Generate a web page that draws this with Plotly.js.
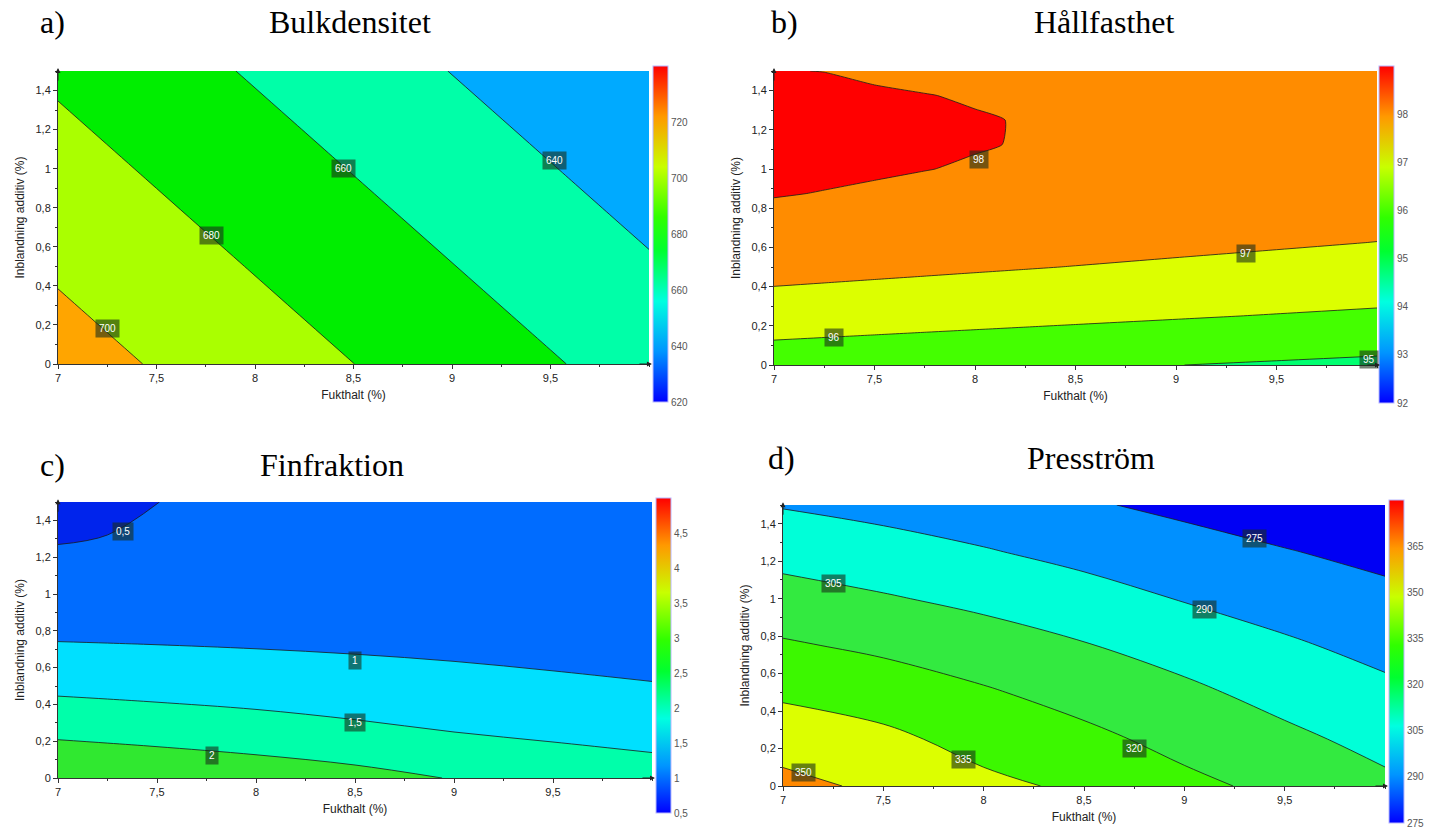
<!DOCTYPE html>
<html><head><meta charset="utf-8">
<script src="https://cdn.plot.ly/plotly-3.0.1.min.js"></script>
<style>html,body{margin:0;padding:0;background:#fff}#chart{width:1435px;height:829px}</style>
</head><body><div id="chart"></div>
<script>
// ---------- data ----------
const fukthalt = [7, 7.5, 8, 8.5, 9, 9.5, 10];
const fukthaltB = [7, 7.25, 7.5, 7.75, 8, 8.25, 8.5, 9, 9.5, 10];
const fukthaltC = [7, 7.25, 7.5, 8, 8.5, 9, 9.5, 10];
const additiv = [0, 0.25, 0.5, 0.75, 1, 1.25, 1.5];
const additivFine = [0, 0.125, 0.25, 0.375, 0.5, 0.625, 0.75, 0.875, 1, 1.125, 1.25, 1.375, 1.5];
const xTicks = [7, 7.5, 8, 8.5, 9, 9.5];
const yTicks = [0, 0.2, 0.4, 0.6, 0.8, 1, 1.2, 1.4];

// a) Bulkdensitet  (rows = additiv, cols = fukthalt)
const bulkdensitet = [
  [708.0, 698.7, 689.4, 680.1, 670.8, 661.5, 652.2],
  [702.8, 693.5, 684.2, 674.9, 665.6, 656.3, 647.0],
  [697.6, 688.3, 679.0, 669.7, 660.4, 651.1, 641.8],
  [692.4, 683.1, 673.8, 664.5, 655.2, 645.9, 636.6],
  [687.2, 677.9, 668.6, 659.3, 650.0, 640.7, 631.4],
  [682.0, 672.7, 663.4, 654.1, 644.8, 635.5, 626.2],
  [676.8, 667.5, 658.2, 648.9, 639.6, 630.3, 621.0]
];
const bulkLevels = [640, 660, 680, 700];
const bulkBar = [620, 740];
const bulkBarTicks = [620, 640, 660, 680, 700, 720];

// b) Hållfasthet (rows = additivFine, cols = fukthaltB)
const hallfasthet = [
  [95.433, 95.380, 95.327, 95.274, 95.221, 95.168, 95.115, 95.009, 94.903, 94.795],
  [95.992, 95.939, 95.886, 95.833, 95.781, 95.728, 95.675, 95.569, 95.463, 95.356],
  [96.488, 96.436, 96.383, 96.331, 96.278, 96.226, 96.173, 96.067, 95.962, 95.856],
  [96.922, 96.870, 96.818, 96.766, 96.714, 96.662, 96.609, 96.504, 96.400, 96.295],
  [97.293, 97.242, 97.190, 97.139, 97.087, 97.036, 96.984, 96.880, 96.777, 96.673],
  [97.602, 97.551, 97.500, 97.450, 97.399, 97.348, 97.297, 97.194, 97.093, 96.990],
  [97.848, 97.798, 97.748, 97.698, 97.648, 97.598, 97.548, 97.447, 97.347, 97.246],
  [98.032, 97.983, 97.934, 97.885, 97.836, 97.787, 97.738, 97.639, 97.541, 97.442],
  [98.153, 98.105, 98.057, 98.010, 97.962, 97.914, 97.866, 97.769, 97.673, 97.576],
  [98.212, 98.165, 98.119, 98.072, 98.025, 97.979, 97.932, 97.837, 97.744, 97.650],
  [98.208, 98.163, 98.118, 98.072, 98.027, 97.982, 97.936, 97.844, 97.753, 97.662],
  [98.142, 98.098, 98.054, 98.011, 97.967, 97.923, 97.879, 97.790, 97.702, 97.614],
  [98.013, 97.995, 97.929, 97.887, 97.845, 97.802, 97.760, 97.674, 97.590, 97.505]
];
const hallLevels = [95, 96, 97, 98];
const hallBar = [92, 99];
const hallBarTicks = [92, 93, 94, 95, 96, 97, 98];

// c) Finfraktion (rows = additiv, cols = fukthaltC)
const finfraktion = [
  [2.513, 2.459, 2.404, 2.285, 2.153, 1.979, 1.842, 1.724],
  [1.897, 1.854, 1.811, 1.721, 1.611, 1.500, 1.405, 1.319],
  [1.388, 1.360, 1.331, 1.271, 1.197, 1.135, 1.074, 1.019],
  [0.986, 0.974, 0.962, 0.936, 0.912, 0.883, 0.849, 0.826],
  [0.692, 0.699, 0.705, 0.715, 0.756, 0.745, 0.730, 0.740],
  [0.506, 0.515, 0.559, 0.608, 0.728, 0.720, 0.718, 0.759],
  [0.427, 0.462, 0.497, 0.615, 0.829, 0.809, 0.812, 0.885]
];
const finLevels = [0.5, 1, 1.5, 2];
const finBar = [0.5, 5];
const finBarTicks = [0.5, 1, 1.5, 2, 2.5, 3, 3.5, 4, 4.5];

// d) Presström (rows = additiv, cols = fukthalt)
const presstrom = [
  [354.3, 347.0, 338.4, 332.4, 323.4, 316.4, 308.0],
  [343.4, 338.4, 329.9, 323.5, 315.7, 308.3, 300.6],
  [332.6, 327.8, 321.5, 314.7, 308.0, 300.1, 293.1],
  [321.7, 317.2, 311.7, 305.8, 299.0, 292.0, 285.8],
  [310.8, 306.3, 301.5, 295.9, 289.2, 283.8, 278.5],
  [299.9, 295.8, 291.1, 285.6, 280.5, 275.7, 271.2],
  [289.1, 285.4, 280.8, 276.5, 271.9, 267.5, 263.9]
];
const pressLevels = [275, 290, 305, 320, 335, 350];
const pressBar = [275, 380];
const pressBarTicks = [275, 290, 305, 320, 335, 350, 365];

// ---------- styling ----------
const rainbow = [[0,'#0000ff'],[0.15,'#0095ff'],[0.3,'#00ffe0'],[0.45,'#00ff30'],[0.55,'#30ff00'],[0.7,'#c8ff00'],[0.85,'#ff9900'],[1,'#ff0000']];
const W = 1435, H = 829;
const px = v => v / W, py = v => 1 - v / H;

function stepScale(colors) {
  const nc = colors.length - 1, cs = [];
  for (let k = 0; k < nc; k++) {
    const lo = k / nc, hi = (k === nc - 1) ? (nc - 0.25) / nc : (k + 1) / nc;
    cs.push([lo, colors[k]], [hi, colors[k]]);
  }
  cs.push([(nc - 0.25) / nc, colors[nc]], [1, colors[nc]]);
  return cs;
}
const fmt = v => String(v).replace('.', ',');
const narrow = 'Liberation Sans Narrow, Liberation Sans, Arial, sans-serif';

const panels = [
  {key:'', x:fukthalt, y:additiv, z:bulkdensitet, lv:bulkLevels, bar:bulkBar, bt:bulkBarTicks,
   bands:['#00aaff','#00ffa8','#00ee00','#aaff00','#ffa500'], smooth:1,
   dom:[[58,649],[71,364]], cb:[653,66,336],
   letter:['a)',52,22], title:['Bulkdensitet',350,22],
   labels:[[9.52,1.04],[8.45,1.0],[7.78,0.66],[7.25,0.18]]},
  {key:'2', x:fukthaltB, y:additivFine, z:hallfasthet, lv:hallLevels, bar:hallBar, bt:hallBarTicks,
   bands:['#00ff70','#44ff00','#dcff00','#ff8c00','#ff0000'], smooth:0.5,
   dom:[[774,1377],[71,365]], cb:[1379,66,337],
   letter:['b)',784,22], title:['Hållfasthet',1104,22],
   labels:[[9.96,0.03],[7.3,0.14],[9.35,0.57],[8.02,1.05]]},
  {key:'3', x:fukthaltC, y:additiv, z:finfraktion, lv:finLevels, bar:finBar, bt:finBarTicks,
   bands:['#0024ec','#006cff','#00e0ff','#00ffaa','#30e830'], smooth:1,
   dom:[[58,652],[502,778]], cb:[656,498,315],
   letter:['c)',52,465], title:['Finfraktion',332,465],
   labels:[[7.33,1.34],[8.5,0.64],[8.5,0.3],[7.78,0.12]]},
  {key:'4', x:fukthalt, y:additiv, z:presstrom, lv:pressLevels, bar:pressBar, bt:pressBarTicks,
   bands:['#0000f4','#0090ff','#00ffd8','#33ea40','#3cf800','#dcff00','#ff8800'], smooth:1,
   dom:[[783,1385],[505,786]], cb:[1389,500,323],
   letter:['d)',781,458], title:['Presström',1091,458],
   labels:[[9.35,1.32],[9.1,0.94],[7.25,1.08],[8.75,0.2],[7.9,0.14],[7.1,0.07]]}
];

const data = [], annotations = [];
const layout = {
  width: W, height: H, margin:{l:0,r:0,t:0,b:0},
  paper_bgcolor:'#fff', plot_bgcolor:'#fff', showlegend:false,
  separators: ', ',
  font:{family:'Liberation Sans, Arial, sans-serif', color:'#222'},
  annotations
};
const tfont = {family:'Liberation Serif, Times New Roman, serif', size:32, color:'#000'};

panels.forEach(p => {
  const xa = 'x' + p.key, ya = 'y' + p.key;
  const step = p.lv[1] - p.lv[0];
  data.push({
    type:'contour', x:p.x, y:p.y, z:p.z, xaxis:xa, yaxis:ya,
    autocontour:false,
    contours:{start:p.lv[0], end:p.lv[p.lv.length-1], size:step, coloring:'fill', showlines:true},
    colorscale: stepScale(p.bands), showscale:false,
    line:{color:'#1a1a1a', width:0.8, smoothing:p.smooth},
    hoverinfo:'skip'
  });
  data.push({
    type:'scatter', mode:'markers', x:[null,null], y:[null,null], xaxis:xa, yaxis:ya,
    hoverinfo:'skip', showlegend:false,
    marker:{color:p.bar, cmin:p.bar[0], cmax:p.bar[1], colorscale:rainbow, showscale:true,
      colorbar:{x:px(p.cb[0]), xanchor:'left', y:py(p.cb[1]), yanchor:'top',
        lenmode:'pixels', len:p.cb[2], thicknessmode:'pixels', thickness:15,
        xpad:0, ypad:0, outlinewidth:1, outlinecolor:'#b8b8ff',
        tickmode:'array', tickvals:p.bt, ticks:'', ticklabelposition:'outside',
        tickfont:{size:10, color:'#555', family:narrow}}}
  });
  layout['xaxis' + p.key] = {
    domain:[px(p.dom[0][0]), px(p.dom[0][1])], range:[7,10], anchor:ya,
    tickmode:'array', tickvals:xTicks, ticks:'outside', ticklen:4, tickcolor:'#333',
    minor:{tickmode:'linear', tick0:7, dtick:0.25, ticks:'outside', ticklen:2, tickcolor:'#333'},
    showline:true, linecolor:'#333', linewidth:1, showgrid:false, zeroline:false,
    tickfont:{size:11, color:'#222'},
    title:{text:'Fukthalt (%)', font:{size:12, color:'#222'}, standoff:7}
  };
  layout['yaxis' + p.key] = {
    domain:[py(p.dom[1][1]), py(p.dom[1][0])], range:[0,1.5], anchor:xa,
    tickmode:'array', tickvals:yTicks, ticks:'outside', ticklen:4, tickcolor:'#333',
    minor:{tickmode:'linear', tick0:0, dtick:0.1, ticks:'outside', ticklen:2, tickcolor:'#333'},
    showline:true, linecolor:'#333', linewidth:1, showgrid:false, zeroline:false,
    tickfont:{size:11, color:'#222'},
    title:{text:'Inblandning additiv (%)', font:{size:12, color:'#222'}, standoff:8}
  };
  annotations.push({xref:'paper', yref:'paper', x:px(p.letter[1]), y:py(p.letter[2]), text:p.letter[0],
    showarrow:false, font:tfont, xanchor:'center', yanchor:'middle'});
  annotations.push({xref:'paper', yref:'paper', x:px(p.title[1]), y:py(p.title[2]), text:p.title[0],
    showarrow:false, font:tfont, xanchor:'center', yanchor:'middle'});
  p.labels.forEach((pos, i) => {
    annotations.push({xref:xa, yref:ya, x:pos[0], y:pos[1], text:fmt(p.lv[i]), showarrow:false,
      font:{size:10, color:'#fff', family:narrow},
      bgcolor:'rgba(25,45,25,0.6)', borderpad:3, xanchor:'center', yanchor:'middle'});
  });
  // axis arrow heads
  annotations.push({xref:xa + ' domain', yref:ya + ' domain', x:1.005, y:0, ax:-14, ay:0,
    showarrow:true, arrowhead:2, arrowsize:1, arrowwidth:1, arrowcolor:'#222', text:''});
  annotations.push({xref:xa + ' domain', yref:ya + ' domain', x:0, y:1.01, ax:0, ay:14,
    showarrow:true, arrowhead:2, arrowsize:1, arrowwidth:1, arrowcolor:'#222', text:''});
});

Plotly.newPlot('chart', data, layout, {staticPlot:true, displayModeBar:false});
</script>
</body></html>
